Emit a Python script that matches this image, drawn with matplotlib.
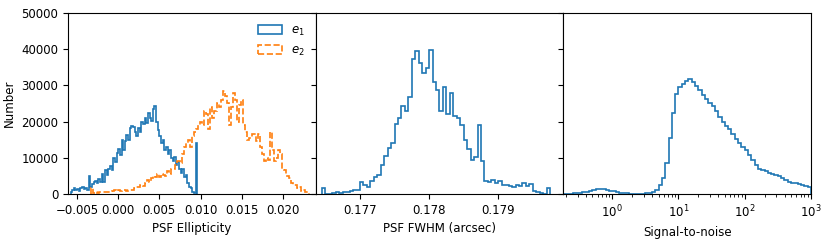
import numpy as np
import matplotlib.pyplot as plt

# PSF ellipticity histograms (counts in thousands per bin)
e1_edges = np.linspace(-0.0058, 0.0096, 78)
e1_counts = [0.4, 1.2, 1.6, 1.2, 1.4, 0.9, 1.5, 1.8, 1.4, 1.6,
             1.2, 5.0, 2.0, 2.8, 3.4, 3.6, 3.0, 4.1, 3.4, 5.4,
             3.2, 6.6, 5.1, 6.9, 7.8, 6.7, 9.8, 8.9, 11.2, 12.3,
             10.8, 14.9, 12.0, 14.6, 16.2, 15.0, 18.1, 18.9, 18.6, 17.0,
             16.0, 18.3, 17.2, 19.9, 19.2, 21.1, 19.6, 22.3, 21.0, 20.2,
             23.4, 24.2, 19.8, 17.6, 16.0, 14.1, 15.0, 12.2, 13.1, 11.0,
             12.1, 9.8, 9.0, 10.2, 7.9, 8.8, 6.9, 5.8, 7.0, 4.6,
             5.2, 3.0, 2.0, 1.6, 0.4, 0.2, 14.0]

e2_edges = np.linspace(-0.0033, 0.0232, 107)
e2_counts = [1.5, 0.3, 0.4, 0.3, 0.5, 0.4, 0.6, 0.5, 0.4, 0.6,
             0.8, 1.0, 0.9, 1.1, 0.8, 1.2, 1.0, 0.9, 1.2, 1.1,
             1.0, 1.6, 2.0, 1.8, 2.5, 2.2, 3.0, 3.8, 3.4, 4.5,
             5.0, 4.6, 5.4, 4.8, 5.5, 5.2, 5.0, 6.2, 5.6, 6.8,
             7.0, 8.0, 9.0, 8.5, 11.0, 13.0, 14.0, 15.0, 13.0, 16.0,
             17.0, 18.0, 19.0, 20.0, 19.0, 23.0, 22.0, 18.0, 24.0, 21.0,
             23.0, 25.0, 24.0, 26.0, 28.5, 27.0, 25.0, 19.0, 24.0, 28.0,
             26.0, 20.0, 24.5, 26.0, 19.0, 17.0, 15.0, 15.5, 16.5, 16.5,
             14.5, 16.5, 13.0, 11.0, 9.0, 10.0, 9.5, 17.0, 12.0, 9.0,
             10.0, 12.0, 11.0, 7.0, 6.5, 5.0, 4.5, 3.0, 2.5, 2.5,
             1.5, 1.8, 0.8, 1.0, 0.6, 0.4]

# PSF FWHM histogram
fwhm_edges = np.linspace(0.17645, 0.17975, 67)
fwhm_counts = [1.5, 0.0, 0.0, 0.2, 0.4, 0.3, 0.5, 0.4, 0.9, 1.0,
               1.1, 3.3, 2.4, 2.0, 3.5, 4.8, 5.2, 8.0, 10.5, 12.8,
               14.2, 19.4, 21.0, 24.3, 23.0, 26.8, 37.2, 39.6, 36.3, 33.5,
               34.8, 39.8, 30.8, 28.8, 23.0, 29.5, 22.2, 28.0, 21.5, 21.0,
               19.0, 14.8, 12.3, 9.4, 10.2, 19.0, 9.0, 3.6, 3.3, 3.8,
               3.0, 3.6, 2.4, 2.6, 2.2, 2.0, 2.6, 2.1, 3.0, 2.2,
               2.8, 0.8, 0.6, 0.2, 0.0, 1.5]

# signal-to-noise histogram, log bins
snr_edges = np.logspace(-0.75, 3.0, 76)
snr_counts = [0.0, 0.0, 0.05, 0.15, 0.25, 0.3, 0.45, 0.65, 0.8, 1.0,
              1.3, 1.4, 1.35, 1.1, 0.9, 0.7, 0.5, 0.35, 0.25, 0.15,
              0.1, 0.1, 0.08, 0.08, 0.1, 0.15, 0.3, 0.6, 1.2, 2.4,
              4.5, 8.5, 15.5, 22.3, 27.5, 29.5, 30.5, 31.2, 31.8, 30.9,
              29.8, 28.6, 27.2, 26.1, 25.1, 24.2, 23.0, 21.3, 19.9, 18.9,
              17.8, 16.6, 15.2, 14.0, 13.0, 12.0, 10.8, 9.5, 8.0, 7.0,
              6.5, 6.2, 5.9, 5.6, 5.2, 4.9, 4.4, 3.8, 3.4, 3.1,
              2.9, 2.7, 2.5, 2.3, 2.0]


def step_hist(ax, edges, counts, **kw):
    edges = np.asarray(edges)
    centers = 0.5 * (edges[1:] + edges[:-1])
    w = np.asarray(counts) * 1000
    return ax.hist(centers, bins=edges, weights=w, histtype='step', lw=1.2, **kw)


plt.rcParams['font.size'] = 8.5
fig, axes = plt.subplots(1, 3, sharey=True, figsize=(8.3, 2.4), dpi=100)
fig.subplots_adjust(left=0.082, right=0.977, bottom=0.192, top=0.946, wspace=0)

ax = axes[0]
step_hist(ax, e1_edges, e1_counts, color='C0', label='$e_1$')
step_hist(ax, e2_edges, e2_counts, color='C1', ls='--', label='$e_2$')
ax.set_xlim(-0.0061, 0.0240)
ax.set_xticks([-0.005, 0.0, 0.005, 0.01, 0.015, 0.02])
ax.set_ylim(0, 50000)
ax.set_yticks(np.arange(0, 50001, 10000))
ax.set_xlabel('PSF Ellipticity')
ax.set_ylabel('Number')
ax.legend(loc='upper right', frameon=False)

ax = axes[1]
step_hist(ax, fwhm_edges, fwhm_counts, color='C0')
ax.set_xlim(0.17636, 0.17994)
ax.set_xticks([0.177, 0.178, 0.179])
ax.set_xlabel('PSF FWHM (arcsec)')

ax = axes[2]
step_hist(ax, snr_edges, snr_counts, color='C0')
ax.set_xscale('log')
ax.set_xlim(10 ** -0.74, 1000)
ax.set_xlabel('Signal-to-noise')

fig.savefig('out.png')
